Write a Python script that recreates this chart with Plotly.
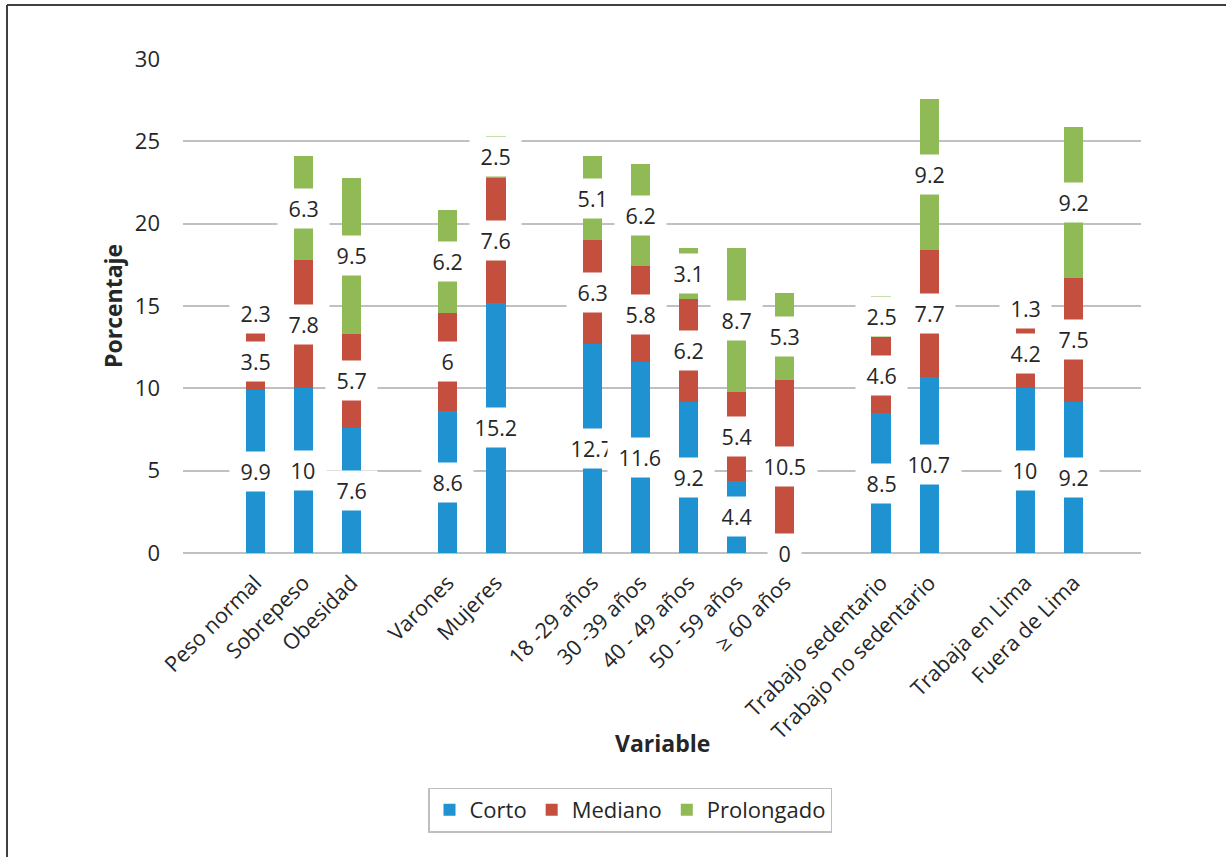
import plotly.graph_objects as go

# ---- data ----
groups = [
    ["Peso normal", "Sobrepeso", "Obesidad"],
    ["Varones", "Mujeres"],
    ["18 -29 años", "30 -39 años", "40 - 49 años", "50 - 59 años", "≥ 60 años"],
    ["Trabajo sedentario", "Trabajo no sedentario"],
    ["Trabaja en Lima", "Fuera de Lima"],
]
corto = [9.9, 10, 7.6, 8.6, 15.2, 12.7, 11.6, 9.2, 4.4, 0, 8.5, 10.7, 10, 9.2]
mediano = [3.5, 7.8, 5.7, 6, 7.6, 6.3, 5.8, 6.2, 5.4, 10.5, 4.6, 7.7, 4.2, 7.5]
prolongado = [2.3, 6.3, 9.5, 6.2, 2.5, 5.1, 6.2, 3.1, 8.7, 5.3, 2.5, 9.2, 1.3, 9.2]
series_names = ["Corto", "Mediano", "Prolongado"]
y_ticks = [0, 5, 10, 15, 20, 25, 30]

# ---- layout helpers ----
W, H = 1226, 857
ML, MR, MT, MB = 183, 85, 59, 304
colors = ["#1F92D2", "#C44F3F", "#8FBA56"]
FONT = "Open Sans"
TXT = "#262626"

categories, xpos = [], []
pos = 0
for g in groups:
    for c in g:
        categories.append(c)
        xpos.append(pos)
        pos += 1
    pos += 1  # gap between groups

fig = go.Figure()
series = [corto, mediano, prolongado]
for name, vals, col in zip(series_names, series, colors):
    fig.add_trace(go.Bar(x=xpos, y=vals, name=name, width=0.4,
                         marker=dict(color=col, line=dict(width=0))))

# white-boxed data labels centred in each segment
annotations = []
base = [0.0] * len(categories)
for vals in series:
    for i, v in enumerate(vals):
        annotations.append(dict(
            x=xpos[i], y=base[i] + v / 2, xref="x", yref="y",
            text="\u00a0" + f"{v:g}" + "\u00a0", showarrow=False,
            bgcolor="white", borderpad=5,
            font=dict(family=FONT, size=21.5, color=TXT)))
        base[i] += v

pw = W - ML - MR
ph = H - MT - MB
annotations.append(dict(text="<b>Porcentaje</b>", xref="paper", yref="paper",
                        x=0, y=0.5, xshift=113 - ML, xanchor="center", yanchor="middle",
                        textangle=-90, showarrow=False,
                        font=dict(family=FONT, size=23, color=TXT)))
annotations.append(dict(text="<b>Variable</b>", xref="paper", yref="paper",
                        x=0.5, y=0, yshift=-(743 - (H - MB)), xanchor="center",
                        yanchor="middle", showarrow=False,
                        font=dict(family=FONT, size=23, color=TXT)))

# outer frame (left and top edges visible)
def px2x(p):
    return (p - ML) / pw

def px2y(p):
    return (H - MB - p) / ph

shapes = [
    dict(type="line", xref="paper", yref="paper", x0=px2x(7), x1=px2x(7),
         y0=px2y(5), y1=px2y(H + 5), line=dict(color="#404040", width=2)),
    dict(type="line", xref="paper", yref="paper", x0=px2x(7), x1=px2x(W + 5),
         y0=px2y(5), y1=px2y(5), line=dict(color="#404040", width=2)),
]

fig.update_layout(
    width=W, height=H, barmode="stack",
    margin=dict(l=ML, r=MR, t=MT, b=MB),
    paper_bgcolor="white", plot_bgcolor="white",
    font=dict(family=FONT, size=22, color=TXT),
    showlegend=True,
    legend=dict(orientation="h", x=(630 - ML) / pw, xanchor="center",
                y=px2y(810), yanchor="middle",
                bordercolor="#BFBFBF", borderwidth=1.5,
                font=dict(family=FONT, size=22, color=TXT), traceorder="normal"),
    xaxis=dict(range=[-1.5, 18.4], tickmode="array", tickvals=xpos,
               ticktext=categories, tickangle=-45, showgrid=False,
               zeroline=False, showline=False, ticks="", ticklabelstandoff=12,
               tickfont=dict(family=FONT, size=21.5, color=TXT)),
    yaxis=dict(range=[0, 30], tickvals=y_ticks, showgrid=True,
               gridcolor="#C0C0C4", gridwidth=1.5, zeroline=True,
               zerolinecolor="#C0C0C4", zerolinewidth=1.5, showline=False,
               ticks="", ticklabelstandoff=22,
               tickfont=dict(family=FONT, size=22, color=TXT)),
    annotations=annotations, shapes=shapes,
)

fig.write_html("out.html")
